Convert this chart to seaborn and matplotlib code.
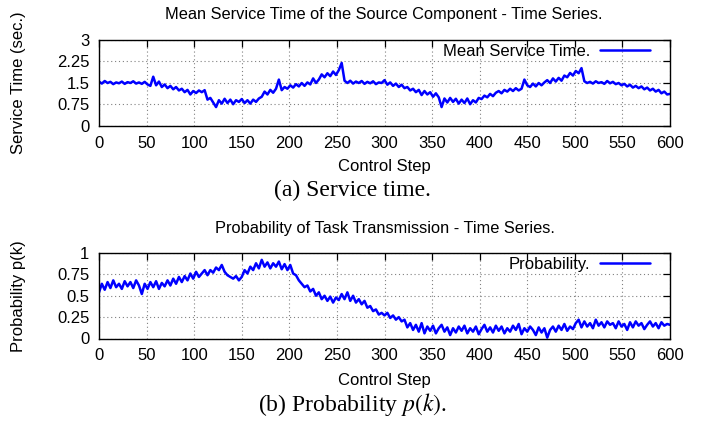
import numpy as np
import pandas as pd
import matplotlib
matplotlib.use("Agg")
import matplotlib.pyplot as plt
import seaborn as sns

# ---------------- data (every 3 control steps) ----------------
steps = list(range(0, 601, 3))

service_time = [
    1.55, 1.48, 1.57, 1.50, 1.54, 1.46, 1.52, 1.49, 1.55, 1.47,   # 0-27
    1.53, 1.50, 1.56, 1.48, 1.52, 1.47, 1.54, 1.45, 1.40, 1.72,   # 30-57
    1.42, 1.55, 1.36, 1.45, 1.32, 1.40, 1.28, 1.36, 1.24, 1.30,   # 60-87
    1.18, 1.26, 1.10, 1.22, 1.15, 1.24, 1.18, 1.25, 0.92, 0.98,   # 90-117
    0.82, 0.66, 0.90, 0.78, 0.95, 0.80, 0.92, 0.76, 0.90, 0.84,   # 120-147
    0.94, 0.80, 0.90, 0.78, 0.92, 0.84, 0.96, 1.02, 1.20, 1.10,   # 150-177
    1.26, 1.16, 1.30, 1.62, 1.25, 1.36, 1.30, 1.42, 1.34, 1.46,   # 180-207
    1.38, 1.50, 1.40, 1.52, 1.45, 1.66, 1.50, 1.62, 1.80, 1.70,   # 210-237
    1.84, 1.74, 1.90, 1.78, 1.95, 2.20, 1.58, 1.50, 1.58, 1.48,   # 240-267
    1.55, 1.50, 1.57, 1.47, 1.54, 1.49, 1.56, 1.46, 1.52, 1.50,   # 270-297
    1.60, 1.44, 1.52, 1.40, 1.48, 1.36, 1.44, 1.32, 1.36, 1.24,   # 300-327
    1.30, 1.18, 1.26, 1.08, 1.22, 1.10, 1.18, 1.02, 1.14, 1.00,   # 330-357
    0.66, 0.96, 0.82, 0.98, 0.84, 0.95, 0.78, 0.92, 0.80, 0.96,   # 360-387
    0.76, 0.90, 0.82, 0.98, 0.94, 1.06, 1.00, 1.12, 1.04, 1.16,   # 390-417
    1.22, 1.14, 1.26, 1.20, 1.30, 1.22, 1.32, 1.24, 1.30, 1.62,   # 420-447
    1.42, 1.36, 1.48, 1.38, 1.50, 1.42, 1.52, 1.60, 1.50, 1.66,   # 450-477
    1.55, 1.68, 1.58, 1.76, 1.70, 1.85, 1.76, 1.92, 1.84, 2.02,   # 480-507
    1.56, 1.50, 1.54, 1.48, 1.56, 1.50, 1.53, 1.47, 1.57, 1.49,   # 510-537
    1.54, 1.46, 1.50, 1.42, 1.47, 1.38, 1.44, 1.34, 1.40, 1.32,   # 540-567
    1.38, 1.28, 1.34, 1.24, 1.30, 1.20, 1.26, 1.14, 1.20, 1.10,   # 570-597
    1.12,                                                         # 600
]

probability = [
    0.54, 0.64, 0.57, 0.66, 0.59, 0.68, 0.60, 0.64, 0.58, 0.67,   # 0-27
    0.61, 0.66, 0.59, 0.68, 0.62, 0.52, 0.64, 0.58, 0.66, 0.60,   # 30-57
    0.67, 0.58, 0.65, 0.61, 0.68, 0.62, 0.70, 0.64, 0.72, 0.66,   # 60-87
    0.73, 0.68, 0.76, 0.70, 0.78, 0.72, 0.76, 0.80, 0.74, 0.80,   # 90-117
    0.77, 0.83, 0.80, 0.86, 0.78, 0.74, 0.72, 0.70, 0.73, 0.68,   # 120-147
    0.72, 0.80, 0.76, 0.84, 0.80, 0.88, 0.82, 0.92, 0.84, 0.89,   # 150-177
    0.82, 0.88, 0.84, 0.90, 0.81, 0.87, 0.80, 0.86, 0.76, 0.74,   # 180-207
    0.68, 0.64, 0.60, 0.62, 0.55, 0.58, 0.50, 0.54, 0.46, 0.50,   # 210-237
    0.44, 0.49, 0.42, 0.48, 0.45, 0.52, 0.46, 0.54, 0.44, 0.50,   # 240-267
    0.42, 0.46, 0.40, 0.44, 0.36, 0.38, 0.32, 0.34, 0.28, 0.30,   # 270-297
    0.27, 0.30, 0.24, 0.27, 0.22, 0.25, 0.20, 0.22, 0.13, 0.18,   # 300-327
    0.10, 0.16, 0.08, 0.18, 0.06, 0.14, 0.09, 0.15, 0.06, 0.12,   # 330-357
    0.16, 0.08, 0.13, 0.04, 0.12, 0.07, 0.14, 0.09, 0.15, 0.06,   # 360-387
    0.12, 0.08, 0.14, 0.05, 0.11, 0.16, 0.08, 0.13, 0.07, 0.15,   # 390-417
    0.09, 0.14, 0.06, 0.12, 0.08, 0.15, 0.10, 0.17, 0.05, 0.12,   # 420-447
    0.08, 0.14, 0.10, 0.04, 0.13, 0.07, 0.12, 0.01, 0.10, 0.14,   # 450-477
    0.08, 0.15, 0.10, 0.17, 0.09, 0.14, 0.11, 0.18, 0.22, 0.13,   # 480-507
    0.20, 0.14, 0.18, 0.12, 0.22, 0.15, 0.19, 0.13, 0.20, 0.16,   # 510-537
    0.18, 0.12, 0.20, 0.14, 0.17, 0.10, 0.19, 0.13, 0.20, 0.15,   # 540-567
    0.18, 0.11, 0.16, 0.20, 0.14, 0.18, 0.12, 0.19, 0.15, 0.17,   # 570-597
    0.16,                                                         # 600
]

x_ticks = [0, 50, 100, 150, 200, 250, 300, 350, 400, 450, 500, 550, 600]
top_yticks = [0, 0.75, 1.5, 2.25, 3]
top_yticklabels = ["0", "0.75", "1.5", "2.25", "3"]
bot_yticks = [0, 0.25, 0.5, 0.75, 1]
bot_yticklabels = ["0", "0.25", "0.5", "0.75", "1"]

# ---------------- style ----------------
sns.set_theme(style="white")
plt.rcParams['font.family'] = ['Liberation Sans', 'DejaVu Sans']
plt.rcParams['mathtext.fontset'] = 'stix'
plt.rcParams['text.color'] = 'black'
plt.rcParams['axes.labelcolor'] = 'black'
plt.rcParams['xtick.color'] = 'black'
plt.rcParams['ytick.color'] = 'black'

W, H = 717, 425
fig = plt.figure(figsize=(W / 100, H / 100), dpi=100)
ax1 = fig.add_axes([99 / W, 1 - 126 / H, 571 / W, 86 / H])
ax2 = fig.add_axes([99 / W, 1 - 338.5 / H, 571 / W, 85.5 / H])

df1 = pd.DataFrame({"step": steps, "value": service_time})
df2 = pd.DataFrame({"step": steps, "value": probability})

sns.lineplot(data=df1, x="step", y="value", ax=ax1, color="#0000ff",
             linewidth=1.8, label="Mean Service Time.")
sns.lineplot(data=df2, x="step", y="value", ax=ax2, color="#0000ff",
             linewidth=1.8, label="Probability.")


def style(ax, yticks, yticklabels, ylabel, xlabel_y):
    ax.set_xlim(0, 600)
    ax.set_ylim(yticks[0], yticks[-1])
    ax.set_xticks(x_ticks)
    ax.set_xticklabels([str(t) for t in x_ticks])
    ax.set_yticks(yticks)
    ax.set_yticklabels(yticklabels)
    ax.tick_params(direction="in", top=True, right=True, length=5, width=0.9,
                   labelsize=12, pad=7, colors="black")
    ax.grid(True, linestyle=(0, (1, 2.5)), color="#808080", linewidth=0.8)
    for s in ax.spines.values():
        s.set_visible(True)
        s.set_color("black")
        s.set_linewidth(1.0)
    ax.set_xlabel("Control Step", fontsize=12, color="black")
    ax.xaxis.set_label_coords(0.5, xlabel_y)
    ax.set_ylabel(ylabel, fontsize=12, color="black")
    ax.yaxis.set_label_coords(-0.128, 0.5)
    leg = ax.legend(loc="upper right", bbox_to_anchor=(0.965, 0.95),
                    frameon=False, markerfirst=False, fontsize=12,
                    handlelength=3.0, handletextpad=0.6,
                    borderaxespad=0, borderpad=0)
    for t in leg.get_texts():
        t.set_color("black")


style(ax1, top_yticks, top_yticklabels, "Service Time (sec.)", -0.38)
style(ax2, bot_yticks, bot_yticklabels, "Probability p(k)", -0.40)

fig.text(384 / W, 1 - 14 / H, "Mean Service Time of the Source Component - Time Series.",
         ha="center", va="center", fontsize=11.8, color="black")
fig.text(385 / W, 1 - 228 / H, "Probability of Task Transmission - Time Series.",
         ha="center", va="center", fontsize=11.8, color="black")
fig.text(352 / W, 1 - 190 / H, "(a) Service time.", ha="center", va="center",
         fontsize=17, family="Liberation Serif", color="black")
fig.text(352 / W, 1 - 404 / H, "(b) Probability $p(k)$.", ha="center", va="center",
         fontsize=17, family="Liberation Serif", color="black")

fig.savefig("out.png", dpi=100)
